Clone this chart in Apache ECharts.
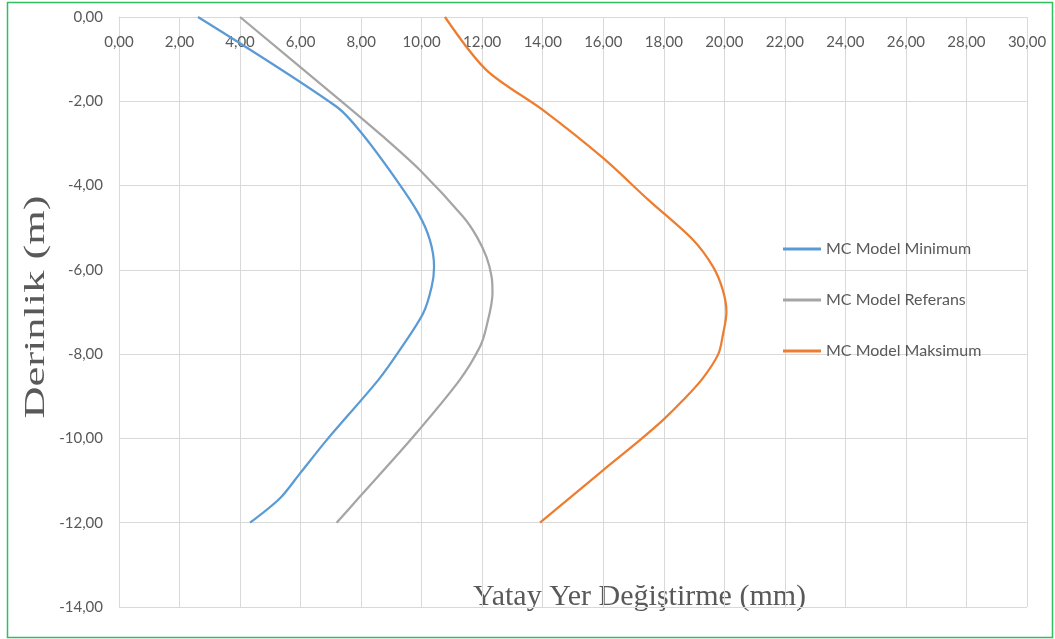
<!DOCTYPE html>
<html>
<head>
<meta charset="utf-8">
<script src="https://cdn.jsdelivr.net/npm/echarts@6/dist/echarts.min.js"></script>
<style>
  html, body { margin: 0; padding: 0; background: #ffffff; }
  #chart { width: 1055px; height: 639px; }
</style>
</head>
<body>
<div id="chart"></div>
<script>
// Horizontal displacement (mm) against depth (m) for three MC model runs
const seriesNames = ['MC Model Minimum', 'MC Model Referans', 'MC Model Maksimum'];

// [displacement, depth]
const mcMinimum = [
  [2.61, 0], [7.19, -2.13], [8.02, -2.76], [9.17, -3.87], [9.89, -4.66],
  [10.27, -5.29], [10.41, -5.93], [10.33, -6.40], [10.05, -7.03], [9.28, -7.90],
  [8.57, -8.61], [6.86, -10.04], [5.98, -10.83], [5.32, -11.42], [4.33, -12.00]
];
const mcReferans = [
  [4.00, 0], [7.30, -1.97], [8.73, -2.84], [9.94, -3.63], [11.37, -4.74],
  [11.82, -5.21], [12.14, -5.69], [12.31, -6.16], [12.34, -6.56], [12.14, -7.35],
  [11.93, -7.82], [11.26, -8.61], [9.72, -9.96], [7.96, -11.38], [7.19, -12.00]
];
const mcMaksimum = [
  [10.77, 0], [12.14, -1.26], [14.01, -2.21], [16.00, -3.35], [17.49, -4.34],
  [18.97, -5.29], [19.63, -5.93], [19.95, -6.48], [20.07, -7.00], [19.95, -7.55],
  [19.80, -8.00], [19.28, -8.58], [18.64, -9.09], [17.98, -9.56], [17.21, -10.04],
  [16.00, -10.75], [13.91, -12.00]
];

const xTitle = 'Yatay Yer Değiştirme (mm)';
const yTitle = 'Derinlik (m)';

const colors = ['#5b9bd5', '#a5a5a5', '#ed7d31'];
const textColor = '#595959';
const gridColor = '#d9d9d9';
const fmt = v => v.toFixed(2).replace('.', ',');

const chart = echarts.init(document.getElementById('chart'), null, { renderer: 'canvas' });

const lineSeries = [mcMinimum, mcReferans, mcMaksimum].map((d, i) => ({
  name: seriesNames[i],
  type: 'line',
  data: d,
  smooth: 0.3,
  symbol: 'none',
  lineStyle: { color: colors[i], width: 2.25 },
  itemStyle: { color: colors[i] },
  z: 3
}));

chart.setOption({
  animation: false,
  backgroundColor: '#ffffff',
  grid: { left: 119, top: 17, width: 908, height: 590, containLabel: false },
  xAxis: {
    type: 'value',
    position: 'top',
    min: 0, max: 30, interval: 2,
    axisLine: { show: true, lineStyle: { color: gridColor, width: 1 } },
    axisTick: { show: false },
    splitLine: { show: true, lineStyle: { color: gridColor, width: 1 } },
    axisLabel: {
      inside: true, margin: 18, formatter: fmt,
      color: textColor, fontFamily: 'Lato', fontSize: 15
    }
  },
  yAxis: {
    type: 'value',
    min: -14, max: 0, interval: 2,
    axisLine: { show: true, lineStyle: { color: gridColor, width: 1 } },
    axisTick: { show: false },
    splitLine: { show: true, lineStyle: { color: gridColor, width: 1 } },
    axisLabel: {
      margin: 16, formatter: fmt,
      color: textColor, fontFamily: 'Lato', fontSize: 15
    }
  },
  legend: {
    orient: 'vertical',
    left: 778, top: 236,
    icon: 'rect',
    itemWidth: 38, itemHeight: 3,
    itemGap: 35,
    itemTextGap: 3,
    textStyle: { color: textColor, fontFamily: 'Lato', fontSize: 16 },
    data: seriesNames
  },
  graphic: [
    {
      // vertical axis title, stretched along its length
      type: 'text', x: 36, y: 307, rotation: Math.PI / 2, scaleX: 1.48, scaleY: 1,
      style: {
        text: yTitle, fill: textColor, font: '30px "Liberation Serif"',
        align: 'center', verticalAlign: 'middle'
      }
    },
    {
      type: 'text', left: 473, top: 582,
      style: { text: xTitle, fill: textColor, font: '30px "Liberation Serif"' }
    },
    {
      type: 'rect', silent: true,
      shape: { x: 7.5, y: 2.5, width: 1045, height: 635 },
      style: { fill: null, stroke: '#2fbf5f', lineWidth: 1.5 }
    }
  ],
  series: lineSeries
});
</script>
</body>
</html>
